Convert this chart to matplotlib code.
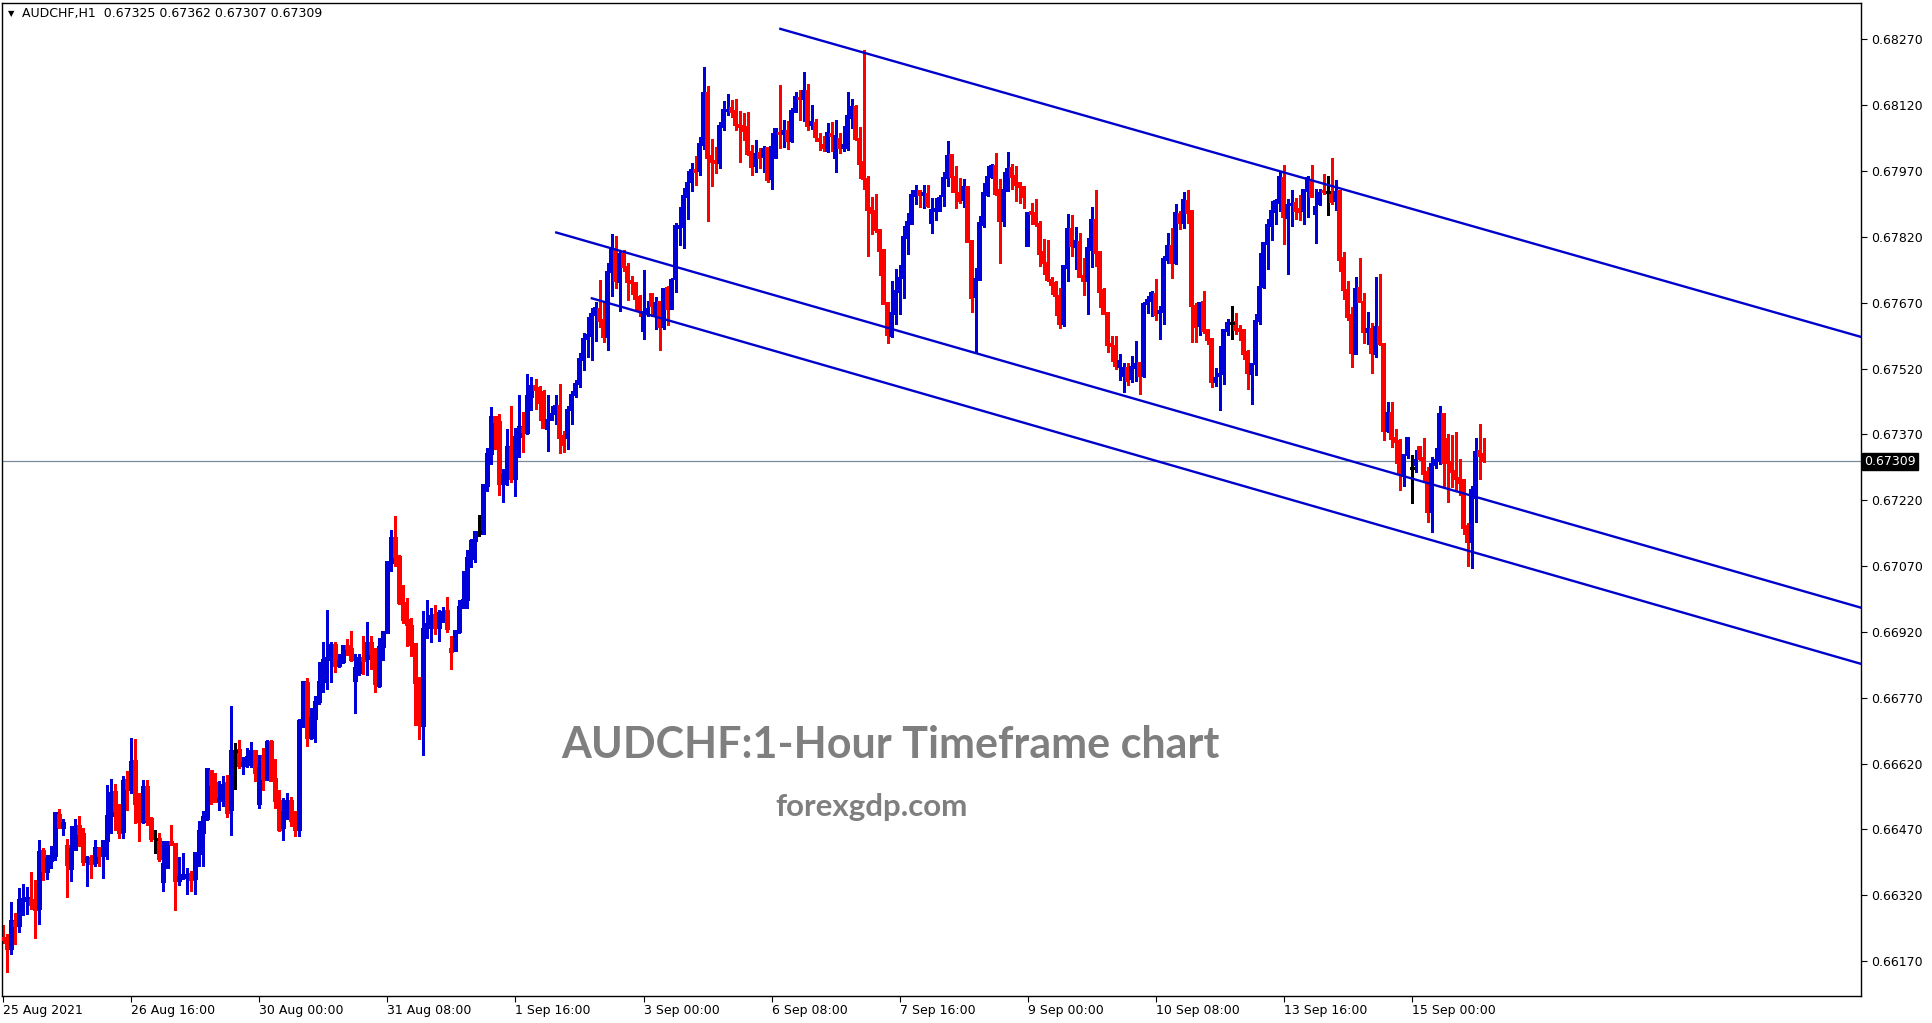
import matplotlib
matplotlib.use("Agg")
import matplotlib.pyplot as plt
import matplotlib.transforms as mtransforms
import numpy as np

# ---------------- data (prices in points, 1e-5) ----------------
opens = [
66223,66218,66198,66258,66250,66307,66307,66310,66302,66288,
66421,66373,66398,66409,66503,66473,66432,66380,66423,66478,
66459,66396,66405,66393,66425,66409,66443,66500,66555,66516,
66464,66583,66560,66626,66532,66487,66567,66494,66448,66448,
66350,66382,66441,66437,66352,66359,66364,66368,66357,66414,
66462,66494,66603,66576,66535,66537,66576,66514,66649,66651,
66615,66617,66636,66649,66529,66637,66583,66669,66584,66535,
66474,66507,66535,66494,66469,66713,66804,66678,66722,66760,
66805,66856,66856,66890,66843,66852,66888,66881,66808,66827,
66861,66859,66895,66870,66797,66886,66918,67077,67134,67090,
66985,66947,66933,66892,66805,66705,66928,66933,66958,66928,
66963,66967,66881,66876,66919,66974,66992,67086,67127,67147,
67143,67252,67325,67409,67398,67257,67277,67339,67268,67364,
67384,67373,67455,67480,67475,67466,67382,67402,67416,67434,
67366,67361,67425,67459,67486,67539,67587,67594,67642,67656,
67631,67592,67740,67788,67717,67781,67751,67720,67715,67683,
67606,67644,67690,67642,67672,67615,67704,67656,67724,67840,
67843,67911,67945,67973,67970,68030,68148,68005,67993,67989,
68071,68107,68114,68107,68075,68073,68071,68014,67982,68011,
68002,68023,67952,68000,68057,68055,68062,68039,68105,68137,
68135,68153,68075,68080,68043,68030,68016,68055,68000,68043,
68023,68023,68091,68116,68043,67991,67952,67886,67879,67836,
67790,67669,67594,67644,67694,67726,67818,67850,67913,67925,
67916,67918,67852,67879,67879,67913,67954,68007,67957,67920,
67904,67934,67811,67683,67722,67847,67916,67957,67982,67927,
67857,67925,67977,67959,67943,67934,67800,67877,67875,67850,
67786,67761,67722,67715,67686,67622,67749,67838,67797,67809,
67731,67720,67790,67859,67786,67699,67647,67576,67572,67524,
67503,67521,67496,67521,67533,67503,67667,67674,67690,67647,
67649,67768,67800,67761,67873,67852,67902,67879,67663,67617,
67672,67608,67588,67489,67503,67508,67606,67624,67626,67610,
67608,67558,67508,67531,67629,67706,67804,67845,67877,67898,
67955,67863,67893,67898,67884,67879,67925,67948,67873,67895,
67925,67923,67920,67902,67925,67772,67699,67642,67553,67704,
67672,67603,67610,67553,67615,67576,67378,67419,67362,67355,
67277,67323,67293,67300,67341,67316,67284,67193,67300,67309,
67417,67360,67307,67287,67271,67266,67161,67125,67225,67332,
67325]

highs = [
66252,66231,66304,66279,66336,66345,66339,66373,66354,66447,
66428,66412,66432,66507,66516,66494,66448,66478,66494,66500,
66473,66409,66412,66446,66430,66446,66571,66585,66573,66528,
66592,66603,66678,66676,66553,66583,66583,66498,66469,66462,
66443,66443,66480,66437,66407,66416,66382,66375,66418,66489,
66512,66608,66605,66599,66580,66592,66594,66752,66667,66674,
66635,66656,66669,66651,66640,66656,66674,66674,66630,66560,
66542,66553,66544,66512,66722,66808,66815,66747,66774,66852,
66897,66970,66897,66897,66870,66890,66904,66922,66870,66870,
66911,66943,66911,66884,66906,66922,67080,67152,67184,67095,
67026,66997,66951,66894,66817,66967,66992,66974,66981,66969,
66976,66999,66910,66924,66992,67058,67106,67131,67150,67186,
67254,67339,67432,67412,67416,67291,67382,67434,67384,67459,
67421,67508,67501,67497,67480,67471,67459,67434,67459,67485,
67377,67434,67469,67494,67555,67601,67637,67658,67672,67722,
67672,67761,67827,67822,67788,67790,67761,67731,67717,67688,
67745,67674,67690,67683,67672,67704,67708,67726,67852,67888,
67932,67970,67989,68005,68048,68207,68164,68043,68025,68082,
68130,68146,68132,68135,68107,68103,68105,68030,68041,68023,
68027,68025,68057,68068,68166,68087,68084,68114,68150,68155,
68196,68169,68121,68089,68057,68050,68080,68082,68087,68057,
68073,68150,68135,68121,68071,68246,67959,67911,67918,67838,
67792,67672,67720,67747,67756,67845,67875,67927,67938,67927,
67938,67938,67909,67909,67916,67968,68039,68007,67982,67954,
67952,67934,67813,67749,67868,67943,67982,67986,68011,67952,
67968,68014,67987,67982,67945,67934,67875,67898,67907,67857,
67816,67813,67729,67720,67704,67754,67873,67870,67843,67829,
67772,67818,67888,67927,67786,67704,67647,67594,67594,67553,
67533,67533,67549,67583,67533,67672,67686,67697,67724,67663,
67777,67829,67841,67895,67879,67923,67927,67882,67670,67672,
67697,67610,67588,67521,67572,67608,67633,67663,67647,67619,
67610,67562,67532,67645,67784,67809,67861,67902,67907,67971,
67984,67907,67927,67909,67916,67930,67959,67984,67930,67930,
67964,67959,68000,67950,67925,67786,67720,67660,67729,67772,
67692,67649,67624,67729,67736,67576,67444,67444,67382,67360,
67323,67364,67323,67334,67344,67362,67296,67318,67339,67435,
67417,67371,67369,67375,67314,67266,67168,67252,67362,67394,
67362]

lows = [
66212,66146,66186,66209,66237,66275,66277,66288,66222,66254,
66355,66357,66382,66400,66473,66457,66316,66352,66423,66432,
66389,66341,66359,66386,66386,66359,66402,66462,66469,66450,
66450,66514,66553,66485,66443,66485,66480,66443,66416,66398,
66330,66382,66434,66286,66343,66357,66323,66330,66323,66386,
66386,66491,66528,66532,66514,66523,66498,66457,66562,66610,
66596,66613,66613,66580,66519,66560,66583,66580,66519,66466,
66446,66494,66478,66455,66455,66703,66660,66676,66669,66756,
66783,66790,66806,66829,66841,66849,66868,66854,66735,66822,
66824,66822,66836,66783,66795,66856,66918,67058,67070,66983,
66940,66887,66865,66707,66675,66639,66906,66896,66915,66899,
66942,66919,66835,66876,66917,66974,66974,67067,67079,67138,
67143,67241,67302,67337,67232,67215,67254,67261,67229,67318,
67329,67370,67425,67427,67402,67384,67332,67402,67393,67327,
67329,67336,67393,67456,67478,67516,67546,67539,67583,67615,
67580,67562,67685,67704,67651,67742,67676,67690,67651,67640,
67587,67640,67640,67610,67562,67610,67619,67656,67694,67802,
67795,67861,67925,67938,67961,68021,67856,67936,67966,67977,
68064,68098,68093,68064,67991,68041,68007,67961,67968,67977,
67968,67945,67929,68000,68023,68025,68021,68036,68105,68087,
68084,68064,68066,68039,68018,68016,68014,68016,67968,68011,
68016,68018,68068,68041,67954,67929,67777,67827,67831,67733,
67667,67578,67592,67622,67644,67681,67781,67850,67895,67888,
67886,67888,67829,67859,67879,67891,67936,67922,67886,67897,
67888,67808,67649,67555,67722,67843,67913,67954,67916,67761,
67845,67925,67930,67902,67898,67886,67800,67850,67845,67754,
67736,67720,67690,67642,67613,67617,67720,67777,67747,67729,
67688,67645,67752,67754,67660,67645,67558,67537,67519,67494,
67467,67483,67489,67492,67462,67501,67647,67640,67631,67588,
67622,67761,67727,67759,67838,67841,67852,67581,67581,67597,
67601,67576,67478,67480,67426,67485,67597,67588,67599,67585,
67542,67474,67439,67505,67622,67704,67747,67813,67850,67879,
67804,67736,67845,67861,67859,67850,67866,67911,67806,67893,
67918,67870,67895,67882,67743,67679,67631,67524,67553,67672,
67578,67576,67510,67546,67574,67357,67375,67341,67305,67243,
67252,67316,67214,67284,67312,67266,67170,67147,67293,67303,
67252,67216,67250,67241,67232,67143,67070,67065,67170,67268,
67307]

closes = [
66219,66198,66261,66250,66309,66311,66314,66298,66286,66418,
66375,66402,66409,66507,66475,66485,66389,66425,66475,66459,
66396,66405,66392,66428,66409,66443,66500,66553,66512,66462,
66580,66562,66624,66528,66487,66567,66491,66448,66448,66402,
66391,66441,66437,66352,66361,66366,66366,66355,66416,66466,
66498,66608,66571,66532,66539,66571,66507,66649,66649,66615,
66621,66635,66649,66598,66609,66584,66669,66581,66535,66469,
66510,66535,66490,66469,66717,66806,66679,66724,66760,66806,
66856,66860,66890,66843,66854,66888,66881,66856,66838,66861,
66854,66895,66870,66802,66886,66920,67080,67134,67090,66985,
66947,66935,66890,66803,66707,66926,66938,66956,66928,66963,
66965,66926,66874,66922,66976,66992,67088,67127,67147,67147,
67254,67325,67409,67398,67257,67277,67341,67268,67364,67386,
67375,67457,67480,67471,67441,67384,67402,67416,67434,67361,
67345,67425,67459,67486,67542,67587,67596,67644,67658,67628,
67592,67740,67793,67720,67781,67751,67717,67715,67679,67651,
67649,67656,67663,67669,67615,67701,67656,67722,67845,67845,
67913,67943,67973,67968,68032,68148,68000,67991,67989,68073,
68109,68109,68105,68075,68071,68062,68009,67979,68009,68000,
68021,67950,68025,68066,68055,68062,68039,68107,68139,68135,
68153,68073,68082,68048,68039,68023,68057,68050,68050,68023,
68030,68096,68116,68043,67986,67952,67881,67875,67836,67788,
67667,67596,67647,67697,67726,67820,67854,67916,67925,67916,
67920,67891,67881,67884,67909,67954,68005,67957,67922,67902,
67934,67808,67681,67724,67852,67920,67957,67982,67918,67856,
67927,67975,67957,67939,67934,67911,67875,67873,67850,67781,
67761,67722,67711,67686,67622,67754,67838,67800,67811,67729,
67720,67795,67859,67784,67695,67645,67574,67572,67526,67537,
67521,67492,67524,67531,67503,67667,67676,67692,67642,67651,
67770,67800,67761,67875,67852,67904,67875,67663,67615,67670,
67606,67585,67489,67499,67508,67608,67624,67624,67608,67606,
67553,67510,67531,67629,67706,67806,67847,67879,67902,67957,
67866,67893,67895,67879,67877,67927,67955,67911,67888,67920,
67923,67923,67900,67923,67768,67699,67638,67556,67702,67672,
67603,67610,67556,67615,67576,67378,67419,67360,67353,67280,
67323,67362,67293,67312,67314,67280,67193,67303,67312,67417,
67305,67305,67284,67268,67259,67157,67125,67243,67330,67321,
67309]

x_tick_labels = ["25 Aug 2021", "26 Aug 16:00", "30 Aug 00:00", "31 Aug 08:00",
                 "1 Sep 16:00", "3 Sep 00:00", "6 Sep 08:00", "7 Sep 16:00",
                 "9 Sep 00:00", "10 Sep 08:00", "13 Sep 16:00", "15 Sep 00:00"]
bars_per_label = 32
y_ticks = [0.68270, 0.68120, 0.67970, 0.67820, 0.67670, 0.67520, 0.67370,
           0.67220, 0.67070, 0.66920, 0.66770, 0.66620, 0.66470, 0.66320, 0.66170]
last_price = 0.67309
header = "AUDCHF,H1  0.67325 0.67362 0.67307 0.67309"

# trend lines: (bar, price) anchor pairs
trend_upper = [(193.9, 0.68295), (464.4, 0.67592)]
trend_mid = [(137.9, 0.67831), (464.4, 0.66975)]
trend_low = [(146.8, 0.67681), (464.4, 0.66847)]

# ---------------- figure ----------------
W, H = 1933, 1023
fig = plt.figure(figsize=(W / 100, H / 100), dpi=100)
fig.patch.set_facecolor("white")
left, right, top, bottom = 2.5, 1861.5, 2.5, 996.0
ax = fig.add_axes([left / W, 1 - bottom / H, (right - left) / W, (bottom - top) / H])
ax.set_facecolor("white")

o = np.array(opens) / 1e5
h = np.array(highs) / 1e5
l = np.array(lows) / 1e5
c = np.array(closes) / 1e5
x = np.arange(len(o))

BLUE = "#0000D8"
RED = "#FF0000"
colors = np.where(c > o, BLUE, np.where(c < o, RED, "#000000"))

ax.vlines(x, l, h, colors=colors, lw=0.9, antialiased=False, zorder=2)
body_lo = np.minimum(o, c)
body_h = np.maximum(np.abs(c - o), 2.0e-5)
mask = c != o
ax.bar(x[mask], body_h[mask], bottom=body_lo[mask], width=0.8,
       color=colors[mask], edgecolor=colors[mask], linewidth=0.3,
       antialiased=False, zorder=3)
# doji ticks
dm = ~mask
ax.hlines(c[dm], x[dm] - 0.45, x[dm] + 0.45, colors="#000000", lw=1.0,
          antialiased=False, zorder=3)

LINE = "#0000CC"
for seg in (trend_upper, trend_mid, trend_low):
    xs = [p[0] for p in seg]
    ys = [p[1] for p in seg]
    ax.plot(xs, ys, color=LINE, lw=1.7, solid_capstyle="butt", zorder=4)

ax.axhline(last_price, color="#7A8B9B", lw=0.9, zorder=1)

ax.set_xlim(-0.21, 464.4)
ax.set_ylim(0.660905, 0.683543)

# axes styling
for sp in ax.spines.values():
    sp.set_color("black")
    sp.set_linewidth(1.0)

ax.yaxis.tick_right()
ax.set_yticks(y_ticks)
ax.set_yticklabels([f"{v:.5f}" for v in y_ticks])
ax.tick_params(axis="y", direction="out", length=4, width=0.8, pad=3,
               labelsize=9, colors="black")

xt = [i * bars_per_label for i in range(len(x_tick_labels))]
ax.set_xticks(xt)
ax.set_xticklabels(x_tick_labels)
ax.tick_params(axis="x", direction="out", length=4, width=0.8, pad=2,
               labelsize=9, colors="black")
for lab in ax.get_xticklabels():
    lab.set_horizontalalignment("left")
ax.grid(False)

# last price label on axis
trans = mtransforms.blended_transform_factory(ax.transAxes, ax.transData)
ax.text(1.0015, last_price, "0.67309", transform=trans, ha="left", va="center",
        fontsize=9, color="white", family="DejaVu Sans",
        bbox=dict(boxstyle="square,pad=0.15", fc="black", ec="black"), zorder=6,
        clip_on=False)

# header
fig.text(8 / W, 1 - 14 / H, "\u25BC", fontsize=6, color="black", va="center", ha="left")
fig.text(22 / W, 1 - 14 / H, header, fontsize=9, color="black", va="center", ha="left")

# watermark
fig.text(890 / W, 1 - 745 / H, "AUDCHF:1-Hour Timeframe chart", fontsize=31,
         fontweight="bold", color="#7F7F7F", ha="center", va="center",
         family="Lato")
fig.text(872 / W, 1 - 807 / H, "forexgdp.com", fontsize=22.5, fontweight="bold",
         color="#7F7F7F", ha="center", va="center", family="Lato")

fig.savefig("out.png", dpi=100, facecolor="white")
